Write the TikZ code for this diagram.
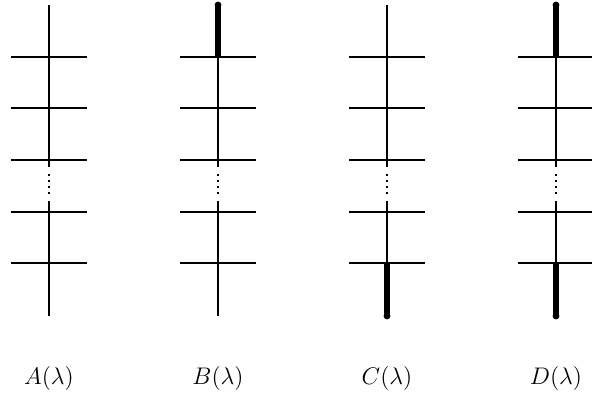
\documentclass[tikz,border=0pt]{standalone}
\usetikzlibrary{
  calc % For coordinate calculations
}

\begin{document}
\begin{tikzpicture}[
      x=0.5pt, y=-0.5pt, % one unit = one pixel of the layout
      rung/.style={line width=0.8pt}, % Style for the cross lines
      spine/.style={line width=0.8pt}, % Style for the vertical lines
      heavy/.style={line width=3.4pt}, % Style for the thick pieces
      gap/.style={line width=1pt, dotted}, % Style for the dotted piece
    ]

    \useasboundingbox (0,0) rectangle (592,411);

    \def\top{5}
    \def\bot{316}
    \def\half{38}

    % Leitern: x-Position / Name / Beschriftung
    \foreach \x/\n/\lab in {49/A/A, 218/B/B, 387/C/C, 556/D/D} {
      % Vertikale Linie mit punktierter Luecke
      \draw[spine] (\x, \top) -- (\x, 167);
      \draw[gap] (\x, 174) -- (\x, 197);
      \draw[spine] (\x, 201) -- (\x, \bot);
      % Querlinien
      \foreach \y in {57, 108, 160, 212, 263}
        \draw[rung] (\x-\half, \y) -- (\x+\half, \y);
      % Beschriftung
      \node[font=\large] (lab\n) at (\x, 378) {$\lab(\lambda)$};
    }

    % Dicke Stuecke oben (B, D), aussen abgerundet
    \foreach \x in {218, 556} {
      \draw[heavy] (\x, \top) -- (\x, 57);
      \fill (\x, \top) circle (1.7pt);
    }

    % Dicke Stuecke unten (C, D)
    \foreach \x in {387, 556} {
      \draw[heavy] (\x, 263) -- (\x, \bot);
      \fill (\x, \bot) circle (1.7pt);
    }

  \end{tikzpicture}
\end{document}
